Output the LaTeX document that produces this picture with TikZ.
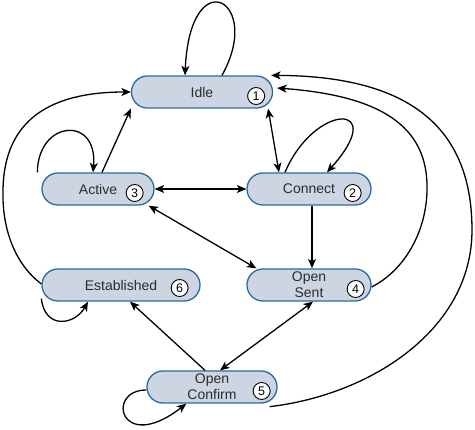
\documentclass[tikz,border=0pt]{standalone}
\usepackage{fontspec}
\setmainfont{Liberation Sans}
\usetikzlibrary{arrows.meta}
\definecolor{statefill}{RGB}{205,212,226}
\definecolor{stateline}{RGB}{43,108,159}
\definecolor{statetext}{RGB}{45,45,45}
\tikzset{
  state/.style={rectangle,rounded corners=15.9pt,draw=stateline,fill=statefill,line width=1.3pt,
    minimum height=32pt,inner sep=0pt,align=center,text=statetext,font=\fontsize{14}{16}\selectfont},
  num/.style={circle,draw=black,fill=white,line width=0.9pt,minimum size=17pt,inner sep=0pt,
    text=black,font=\fontsize{12.5}{12.5}\selectfont}
}
\begin{document}
\begin{tikzpicture}[>={Stealth[length=9.5pt,width=8pt,inset=2.5pt]},line join=bevel,x=1pt,y=-1pt,line width=1.3pt]
        \useasboundingbox (0,0) rectangle (475,430);
        %
        \node (idle) at (202,92) [state,minimum width=141pt] {Idle};
        \node (connect) at (309,189) [state,minimum width=124pt] {Connect};
        \node (active) at (98,189) [state,minimum width=112pt] {Active};
        \node (opensent) at (309,285) [state,minimum width=124pt] {Open\\Sent};
        \node (openconfirm) at (212,387) [state,minimum width=130pt] {Open\\Confirm};
        \node (established) at (121,285) [state,minimum width=158pt] {Established};
        %
        \node (idlenum) at ([xshift=-17pt,yshift=-4pt]idle.east) [num] {1};
        \node (connectnum) at ([xshift=-19pt,yshift=-4pt]connect.east) [num] {2};
        \node (activenum) at ([xshift=-20pt,yshift=-4pt]active.east) [num] {3};
        \node (opensentnum) at ([xshift=-16pt,yshift=-4pt]opensent.east) [num] {4};
        \node (openconfirmnum) at ([xshift=-16pt,yshift=-4pt]openconfirm.east) [num] {5};
        \node (establishednum) at ([xshift=-21pt,yshift=-3pt]established.east) [num] {6};
        %
        \draw [color=black,->] ([xshift=20pt]idle.north) .. controls (264,0) and (190,-40) .. ([xshift=-17pt]idle.north);
        \draw [color=black,->] ([xshift=-4pt]active.north west) .. controls (38,120) and (98,115) .. ([xshift=-5pt]active.north);
        \draw [color=black,->] ([xshift=-24pt]connect.north) .. controls (315,102) and (390,102) .. ([xshift=18pt]connect.north);
        \draw [color=black,->] ([yshift=3pt]established.south west) .. controls (45,330) and (75,325) .. ([xshift=-33pt]established.south);
        \draw [color=black,->] ([yshift=-3pt]openconfirm.west) .. controls (105,390) and (120,455) .. ([xshift=40pt]openconfirm.south west);
        %
        \draw [color=black,->] ([xshift=4pt]active.north) to (idle.south west);
        \draw [color=black,<->] ([xshift=-5pt]idle.south east) to ([xshift=-30pt]connect.north);
        \draw [color=black,<->] (active.east) to (connect.west);
        \draw [color=black,<->] ([xshift=-6pt]active.south east) to ([xshift=10pt]opensent.north west);
        \draw [color=black,->] ([xshift=3pt]connect.south) to ([xshift=3pt]opensent.north);
        \draw [color=black,<->] ([xshift=8pt]openconfirm.north) to ([xshift=4pt]opensent.south);
        \draw [color=black,->] ([xshift=-7pt]openconfirm.north) to ([xshift=9pt]established.south);
        %
        \draw [color=black,->] ([yshift=-2pt]opensent.east) .. controls (405,270) and (428,230) .. (427,185)
              .. controls (426,120) and (370,95) .. ([xshift=4pt,yshift=4pt]idle.east);
        \draw [color=black,->] ([xshift=-8pt,yshift=-3pt]openconfirm.south east) .. controls (370,395) and (472,330) .. (472,230)
              .. controls (472,120) and (400,76) .. ([xshift=-2pt]idle.north east);
        \draw [color=black,->] ([yshift=1pt]established.west) .. controls (10,260) and (2,220) .. (3,190)
              .. controls (4,120) and (50,92) .. (idle.west);
        %
    \end{tikzpicture}
\end{document}
